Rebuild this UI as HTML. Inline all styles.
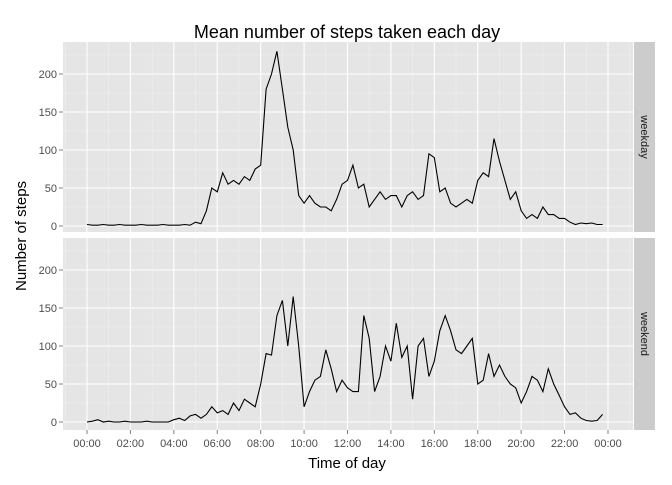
<!DOCTYPE html>
<html><head><meta charset="utf-8"><style>
body{margin:0;background:#fff;font-family:"Liberation Sans",sans-serif}
</style></head><body>
<svg id="c" width="672" height="480" xmlns="http://www.w3.org/2000/svg"></svg>
<script>
const weekday=[2,1,1,2,1,1,2,1,1,1,2,1,1,1,2,1,1,1,2,1,5,3,20,50,45,70,55,60,55,65,60,75,80,180,200,230,180,130,100,40,30,40,30,25,25,20,35,55,60,80,50,55,25,35,45,35,40,40,25,40,45,35,40,95,90,45,50,30,25,30,35,30,60,70,65,115,85,60,35,45,20,10,15,10,25,15,15,10,10,5,2,4,3,4,2,2];
const weekend=[0,1,3,0,1,0,0,1,0,0,0,1,0,0,0,0,3,5,2,8,10,5,10,20,12,15,10,25,15,30,25,20,50,90,88,140,160,100,165,100,20,40,55,60,95,70,40,55,45,40,40,140,110,40,60,100,80,130,85,100,30,100,110,60,80,120,140,120,95,90,100,110,50,55,90,60,75,60,50,45,25,40,60,55,40,70,50,35,20,10,12,5,2,1,2,10];
const facets=["weekday","weekend"];
const xTicks=["00:00","02:00","04:00","06:00","08:00","10:00","12:00","14:00","16:00","18:00","20:00","22:00","00:00"];
const yTicks=[0,50,100,150,200];
const NS="http://www.w3.org/2000/svg";
const svg=document.getElementById('c');
function el(t,a,p){const e=document.createElementNS(NS,t);for(const k in a)e.setAttribute(k,a[k]);(p||svg).appendChild(e);return e;}
const PX0=63,PX1=633;
const xs=h=>87+h*(521/24);
const panels=[{top:42,bot:232,zero:226},{top:238,bot:430,zero:422}];
const k=0.76;
panels.forEach((p,i)=>{
 const g=el('g',{});
 
 
 el('rect',{x:PX0,y:p.top,width:PX1-PX0,height:p.bot-p.top,fill:'#e5e5e5'},g);
 const ys=v=>p.zero-v*k;
 for(let v=-25;v<=250;v+=25){const y=ys(v);if(y<p.top||y>p.bot)continue;
  el('line',{x1:PX0,x2:PX1,y1:y,y2:y,stroke:v%50===0?'#fff':'#f2f2f2','stroke-width':v%50===0?1.1:0.5},g);}
 for(let h=-1;h<=25;h++){const x=xs(h);if(x<PX0||x>PX1)continue;
  el('line',{x1:x,x2:x,y1:p.top,y2:p.bot,stroke:h%2===0?'#fff':'#f2f2f2','stroke-width':h%2===0?1.1:0.5},g);}
 const data=i===0?weekday:weekend;
 const pts=data.map((v,j)=>xs(j*0.25).toFixed(1)+','+ys(v).toFixed(1)).join(' ');
 const line=el('polyline',{points:pts,fill:'none',stroke:'#000','stroke-width':1.1},g);
 
 
 el('rect',{x:634,y:p.top,width:21,height:p.bot-p.top,fill:'#cccccc'},g);
 const st=el('text',{x:0,y:0,transform:`translate(641,${(p.top+p.bot)/2}) rotate(90)`,'text-anchor':'middle','font-size':11,fill:'#1a1a1a'},g);
 st.textContent=facets[i];
 
 
 yTicks.forEach(v=>{const y=ys(v);
  el('line',{x1:PX0-4,x2:PX0,y1:y,y2:y,stroke:'#7f7f7f'},g);
  const t=el('text',{x:PX0-6,y:y+4,'text-anchor':'end','font-size':11,fill:'#4d4d4d'},g);
  t.textContent=v;
  
  });
});
xTicks.forEach((s,i)=>{const x=xs(i*2);
 el('line',{x1:x,x2:x,y1:430,y2:434,stroke:'#7f7f7f'});
 const t=el('text',{x:x,y:447,'text-anchor':'middle','font-size':11,fill:'#4d4d4d'});
 t.textContent=s;
 
 });
const ti=el('text',{x:347,y:38,'text-anchor':'middle','font-size':18,fill:'#000'});
ti.textContent='Mean number of steps taken each day';


const xt=el('text',{x:347,y:468,'text-anchor':'middle','font-size':15,fill:'#000'});
xt.textContent='Time of day';


const yt=el('text',{x:0,y:0,transform:'translate(26,236) rotate(-90)','text-anchor':'middle','font-size':15,fill:'#000'});
yt.textContent='Number of steps';


</script>
</body></html>
